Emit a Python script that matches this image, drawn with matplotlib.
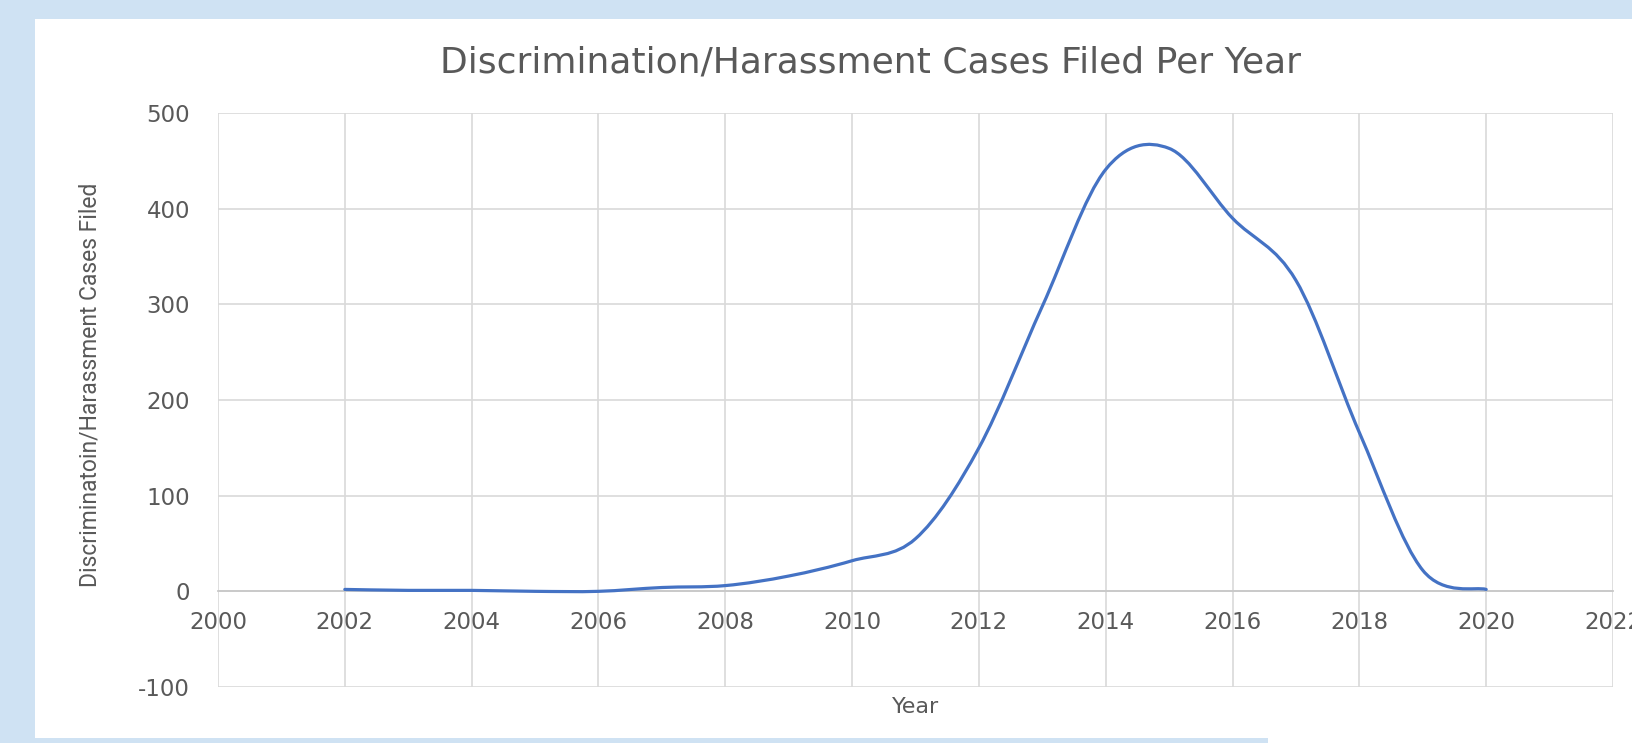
import numpy as np
import matplotlib
matplotlib.use("Agg")
from matplotlib import pyplot as plt
from matplotlib.path import Path
from matplotlib.patches import PathPatch, Rectangle
from matplotlib import font_manager

plt.rcParams["axes.unicode_minus"] = False

years = [2002, 2003, 2004, 2005, 2006, 2007, 2008, 2009, 2010, 2011,
         2012, 2013, 2014, 2015, 2016, 2017, 2018, 2019, 2020]
cases = [2, 1, 1, 0, 0, 4, 6, 16, 32, 55,
         150, 298, 441, 463, 390, 325, 166, 22, 2]

x_ticks = list(range(2000, 2024, 2))
y_ticks = [-100, 0, 100, 200, 300, 400, 500]

title = "Discrimination/Harassment Cases Filed Per Year"
ylabel = "Discriminatoin/Harassment Cases Filed"
xlabel = "Year"

text_gray = "#595959"
grid_gray = "#d9d9d9"
line_blue = "#4472c4"

# narrow font for the y label if we have one
names = set(f.name for f in font_manager.fontManager.ttflist)
if "Liberation Sans Narrow" in names:
    narrow = "Liberation Sans Narrow"
    narrow_size = 16.5
else:
    narrow = "Roboto"
    narrow_size = 16.5

W, H = 1632, 743
fig = plt.figure(figsize=(W / 100, H / 100), dpi=100)
fig.patch.set_facecolor("#cfe2f3")

# white card behind the chart
fig.patches.append(Rectangle((35 / W, 1 - 738 / H), 1 - 35 / W, (738 - 19) / H,
                             transform=fig.transFigure, facecolor="white",
                             edgecolor="none", zorder=-5))
fig.patches.append(Rectangle((1268 / W, 0), 1 - 1268 / W, 1 - 19 / H,
                             transform=fig.transFigure, facecolor="white",
                             edgecolor="none", zorder=-5))

ax = fig.add_axes([218 / W, 1 - 687 / H, (1613 - 218) / W, (687 - 113) / H])
ax.set_zorder(2)
ax.set_facecolor("none")
ax.set_xlim(2000, 2022)
ax.set_ylim(-100, 500)
ax.set_xticks(x_ticks)
ax.set_yticks(y_ticks)
ax.grid(True, color=grid_gray, linewidth=1.2)
ax.set_axisbelow(True)
for s in ["top", "right", "left"]:
    ax.spines[s].set_visible(False)
ax.spines["bottom"].set_position(("data", 0))
ax.spines["bottom"].set_color("#c8c8c8")
ax.spines["bottom"].set_linewidth(1.3)
ax.tick_params(axis="both", length=0, labelsize=16.5, labelcolor=text_gray)
ax.tick_params(axis="x", pad=14)
ax.tick_params(axis="y", pad=20)

# smoothed line like the spreadsheet one (Catmull-Rom bezier through the points)
px = np.array(years, dtype=float)
py = np.array(cases, dtype=float)
n = len(px)
verts = [(px[0], py[0])]
codes = [Path.MOVETO]
for i in range(n - 1):
    p0 = np.array([px[max(i - 1, 0)], py[max(i - 1, 0)]])
    p1 = np.array([px[i], py[i]])
    p2 = np.array([px[i + 1], py[i + 1]])
    p3 = np.array([px[min(i + 2, n - 1)], py[min(i + 2, n - 1)]])
    c1 = p1 + (p2 - p0) / 6
    c2 = p2 - (p3 - p1) / 6
    verts += [tuple(c1), tuple(c2), tuple(p2)]
    codes += [Path.CURVE4, Path.CURVE4, Path.CURVE4]
ax.add_patch(PathPatch(Path(verts, codes), facecolor="none", edgecolor=line_blue,
                       linewidth=2.3, capstyle="round", joinstyle="round", zorder=3))

fig.text(870 / W, 1 - 62 / H, title, ha="center", va="center",
         fontsize=26, color=text_gray)
fig.text(90 / W, 1 - 385 / H, ylabel, ha="center", va="center", rotation=90,
         fontsize=narrow_size, color=text_gray, family=narrow)
fig.text(916 / W, 1 - 707 / H, xlabel, ha="center", va="center",
         fontsize=16, color=text_gray)

plt.savefig("out.png", dpi=100)
